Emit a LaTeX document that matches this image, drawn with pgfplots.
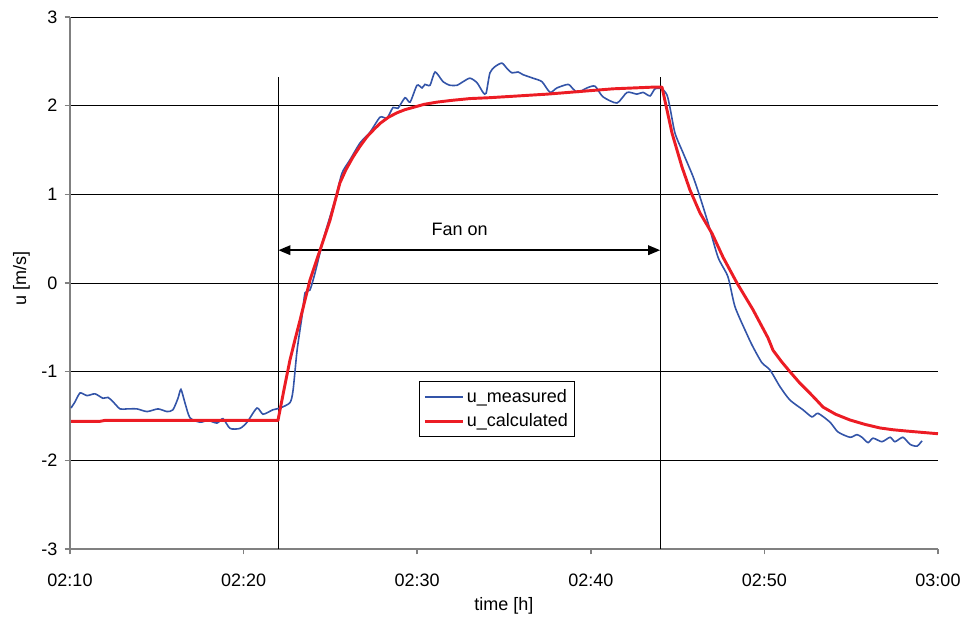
\documentclass[border=0pt]{standalone}
\usepackage{fontspec}
\setmainfont{Liberation Sans}
\usepackage{pgfplots}
\pgfplotsset{compat=1.18}
\usetikzlibrary{arrows.meta}
\definecolor{measblue}{RGB}{51,84,168}
\definecolor{calcred}{RGB}{236,28,36}
\definecolor{axgray}{RGB}{128,128,128}
\newcommand{\chartfont}{\fontsize{13.5}{16}\selectfont}

% x is minutes after 02:10
\pgfplotstableread{
t u
0.06 -1.41
0.29 -1.34
0.58 -1.24
0.98 -1.27
1.44 -1.25
1.90 -1.30
2.19 -1.29
2.48 -1.34
2.88 -1.42
3.28 -1.42
3.86 -1.42
4.44 -1.45
5.07 -1.42
5.59 -1.45
5.93 -1.43
6.22 -1.30
6.39 -1.20
6.62 -1.35
6.91 -1.52
7.49 -1.57
7.95 -1.55
8.47 -1.58
8.81 -1.53
9.22 -1.64
9.79 -1.64
10.20 -1.57
10.77 -1.41
11.12 -1.48
11.69 -1.43
12.10 -1.41
12.67 -1.35
12.85 -1.21
13.08 -0.76
13.36 -0.38
13.54 -0.11
13.82 -0.08
14.11 0.11
14.40 0.34
14.69 0.56
15.27 0.94
15.67 1.24
16.13 1.39
16.71 1.58
17.28 1.70
17.86 1.87
18.26 1.86
18.61 1.98
18.89 1.97
19.30 2.09
19.59 2.04
19.99 2.23
20.28 2.20
20.45 2.24
20.74 2.23
21.03 2.38
21.49 2.27
21.89 2.23
22.29 2.23
22.64 2.27
23.04 2.31
23.44 2.26
23.79 2.15
23.97 2.14
24.19 2.37
24.48 2.44
24.88 2.48
25.17 2.42
25.46 2.37
25.81 2.38
26.09 2.35
26.67 2.31
27.19 2.27
27.65 2.15
28.05 2.20
28.69 2.24
28.97 2.19
29.26 2.15
29.78 2.20
30.24 2.22
30.70 2.10
31.51 2.03
32.09 2.15
32.66 2.13
33.01 2.15
33.41 2.11
33.70 2.19
34.10 2.19
34.39 2.12
34.56 1.98
34.85 1.69
35.31 1.47
35.89 1.20
36.29 0.97
36.75 0.68
37.33 0.29
37.90 0.07
38.31 -0.27
39.00 -0.58
39.34 -0.72
39.86 -0.90
40.32 -0.98
40.90 -1.17
41.47 -1.32
42.22 -1.43
42.74 -1.51
43.09 -1.47
43.78 -1.57
44.24 -1.68
44.93 -1.74
45.33 -1.71
45.62 -1.74
45.97 -1.80
46.26 -1.75
46.77 -1.79
47.24 -1.74
47.52 -1.79
47.98 -1.74
48.39 -1.82
48.79 -1.84
49.08 -1.78
}\measured

\pgfplotstableread{
t u
0.06 -1.56
1.73 -1.56
2.00 -1.55
11.98 -1.55
12.38 -1.15
12.67 -0.87
12.96 -0.64
13.25 -0.42
13.82 0.03
14.40 0.37
14.98 0.71
15.55 1.13
15.90 1.28
16.30 1.42
16.70 1.54
17.11 1.65
17.50 1.73
17.86 1.80
18.35 1.87
18.84 1.92
19.30 1.955
19.76 1.98
20.40 2.015
21.14 2.04
22.00 2.06
23.04 2.08
24.19 2.09
27.48 2.13
31.28 2.19
33.70 2.21
34.10 2.21
34.68 1.69
35.25 1.31
35.71 1.05
36.29 0.79
36.98 0.56
37.62 0.29
38.42 0.00
39.34 -0.30
40.21 -0.62
40.50 -0.76
41.00 -0.89
41.47 -1.00
42.00 -1.12
42.51 -1.22
43.00 -1.32
43.38 -1.40
44.10 -1.48
44.93 -1.545
45.80 -1.595
46.66 -1.635
47.40 -1.655
48.21 -1.67
49.10 -1.685
50.00 -1.70
}\calculated

\begin{document}
\begin{tikzpicture}
\useasboundingbox (-52.5pt,-51pt) rectangle (670.5pt,411.75pt);
\begin{axis}[
  at={(0pt,0pt)}, anchor=south west,
  scale only axis, width=651pt, height=399pt,
  xmin=0, xmax=50, ymin=-3, ymax=3,
  axis x line*=bottom, axis y line*=left,
  axis line style={axgray, line width=1.1pt},
  xtick={0,10,20,30,40,50},
  xticklabels={02:10,02:20,02:30,02:40,02:50,03:00},
  ytick={-3,-2,-1,0,1,2,3},
  yticklabels={-3,-2,-1,0,1,2,3},
  tick align=outside, major tick length=4pt,
  tick style={axgray, line width=1.1pt},
  ymajorgrids, grid style={black, line width=0.6pt},
  tick label style={font=\chartfont},
  xticklabel style={anchor=north, yshift=-11pt},
  yticklabel style={anchor=east, xshift=-2pt},
  xlabel={time [h]}, ylabel={u [m/s]},
  label style={font=\chartfont},
  xlabel style={at={(axis description cs:0.5,0)}, anchor=center, yshift=-42.75pt},
  ylabel style={at={(axis description cs:-0.0559,0.509)}, anchor=center},
  legend style={at={(rel axis cs:0.402,0.316)}, anchor=north west,
    draw=black, line width=0.6pt, font=\chartfont, inner xsep=3pt, inner ysep=4pt,
    row sep=3pt, cells={anchor=west}},
  legend image code/.code={\draw[#1] (0pt,0pt) -- (28.5pt,0pt);},
]
\draw[black, line width=0.6pt] (axis cs:12,2.32) -- (axis cs:12,-3);
\draw[black, line width=0.6pt] (axis cs:34,2.32) -- (axis cs:34,-3);
\draw[black, line width=1.6pt, {Triangle[length=9pt,width=7pt]}-{Triangle[length=9pt,width=7pt]}]
  (axis cs:12,0.37) -- (axis cs:34,0.37);
\node[font=\chartfont] at (axis cs:22.44,0.61) {Fan on};
\addplot[measblue, line width=1.2pt, smooth, tension=0.4] table[x=t, y=u] {\measured};
\addlegendentry{u\_measured}
\addplot[calcred, line width=2.2pt, line join=round] table[x=t, y=u] {\calculated};
\addlegendentry{u\_calculated}
\end{axis}
\end{tikzpicture}
\end{document}
